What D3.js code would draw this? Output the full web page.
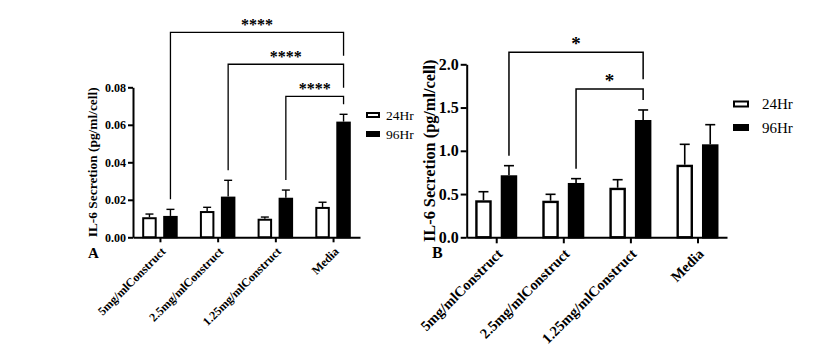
<!DOCTYPE html>
<html>
<head>
<meta charset="utf-8">
<script src="https://cdn.jsdelivr.net/npm/d3@7"></script>
<style>
  body { margin: 0; background: #fff; }
  svg text { font-family: "Times New Roman", "Liberation Serif", "DejaVu Serif", serif !important; fill: #000; }
</style>
</head>
<body>
<div id="chart"></div>
<script>
// IL-6 secretion, two panels (A, B)
const categories = ["5mg/mlConstruct", "2.5mg/mlConstruct", "1.25mg/mlConstruct", "Media"];
const seriesNames = ["24Hr", "96Hr"];

// panel A
const a24 = [0.0107, 0.0140, 0.0099, 0.0162];
const a24Err = [0.0017, 0.0020, 0.0009, 0.0025];
const a96 = [0.0114, 0.0217, 0.0211, 0.0617];
const a96Err = [0.0035, 0.0087, 0.0041, 0.0039];
const aTicks = [0, 0.02, 0.04, 0.06, 0.08];
const aSig = [
    { from: 0, to: 3, level: 0.1093, label: "****" },
    { from: 1, to: 3, level: 0.0923, label: "****" },
    { from: 2, to: 3, level: 0.0752, label: "****" }
];

// panel B
const b24 = [0.428, 0.423, 0.573, 0.839];
const b24Err = [0.099, 0.074, 0.093, 0.236];
const b96 = [0.717, 0.628, 1.356, 1.075];
const b96Err = [0.111, 0.050, 0.116, 0.227];
const bTicks = [0, 0.5, 1.0, 1.5, 2.0];
const bSig = [
    { from: 0, to: 2, level: 2.139, label: "*" },
    { from: 1, to: 2, level: 1.714, label: "*" }
];

const svg = d3.select("#chart").append("svg")
    .attr("width", 832)
    .attr("height", 353);

function drawPanel(p) {
    const g = svg.append("g");

    const y = d3.scaleLinear().domain([0, p.ticks[p.ticks.length - 1]]).range([p.bottom, p.top]);
    const x = d3.scalePoint().domain(categories).range([p.left, p.right]).padding(p.xPad);
    const s = d3.scaleBand().domain(seriesNames)
        .range([-(p.barW + p.gap / 2), p.barW + p.gap / 2])
        .paddingInner(p.gap / (p.barW + p.gap));

    const rows = [];
    categories.forEach((c, i) => {
        rows.push({ cat: c, ser: "24Hr", v: p.v24[i], e: p.e24[i] });
        rows.push({ cat: c, ser: "96Hr", v: p.v96[i], e: p.e96[i] });
    });
    const cx = d => x(d.cat) + s(d.ser) + s.bandwidth() / 2;

    // error bars (upper only)
    const eb = g.append("g").attr("stroke", "#000").attr("stroke-width", p.errW);
    eb.selectAll("line.v").data(rows).enter().append("line")
        .attr("x1", cx).attr("x2", cx)
        .attr("y1", d => y(d.v)).attr("y2", d => y(d.v + d.e));
    eb.selectAll("line.c").data(rows).enter().append("line")
        .attr("x1", d => cx(d) - p.capW / 2).attr("x2", d => cx(d) + p.capW / 2)
        .attr("y1", d => y(d.v + d.e)).attr("y2", d => y(d.v + d.e));

    // bars
    g.append("g").selectAll("rect").data(rows).enter().append("rect")
        .attr("x", d => x(d.cat) + s(d.ser) + p.barStroke / 2)
        .attr("y", d => y(d.v) + p.barStroke / 2)
        .attr("width", s.bandwidth() - p.barStroke)
        .attr("height", d => y(0) - y(d.v) - p.barStroke / 2)
        .attr("fill", d => d.ser === "24Hr" ? "#fff" : "#000")
        .attr("stroke", "#000")
        .attr("stroke-width", p.barStroke);

    // y axis
    const ya = g.append("g")
        .attr("transform", `translate(${p.left},0)`)
        .call(d3.axisLeft(y).tickValues(p.ticks).tickFormat(d3.format(p.fmt))
            .tickSize(p.tick).tickSizeOuter(0).tickPadding(2));
    ya.attr("font-family", null);
    ya.selectAll("path, line").attr("stroke", "#000").attr("stroke-width", p.axisW);
    ya.selectAll("text").attr("font-size", p.tickFont).attr("font-weight", "bold");

    // x axis
    const xa = g.append("g")
        .attr("transform", `translate(0,${p.bottom})`)
        .call(d3.axisBottom(x).tickSize(p.tick).tickSizeOuter(0));
    xa.attr("font-family", null);
    xa.selectAll("path, line").attr("stroke", "#000").attr("stroke-width", p.axisW);
    xa.selectAll("text")
        .attr("font-size", p.catFont).attr("font-weight", "bold")
        .attr("text-anchor", "end")
        .attr("x", 0).attr("y", 0).attr("dy", "0.35em")
        .attr("transform", `translate(${p.catDx},${p.catDy}) rotate(-45)`);

    // y label
    g.append("text")
        .attr("transform", `translate(${p.labelX},${(p.top + p.bottom) / 2}) rotate(-90)`)
        .attr("text-anchor", "middle")
        .attr("dy", "0.35em")
        .attr("font-size", p.labelFont)
        .attr("font-weight", "bold")
        .text("IL-6 Secretion (pg/ml/cell)");

    // panel letter
    g.append("text")
        .attr("x", p.letterX).attr("y", p.letterY)
        .attr("font-size", p.letterFont).attr("font-weight", "bold")
        .text(p.letter);

    // significance brackets (between 96Hr bars)
    const topOf = i => {
        const d = rows.find(r => r.cat === categories[i] && r.ser === "96Hr");
        return { x: cx(d), y: y(d.v + d.e) };
    };
    const br = g.append("g");
    p.sig.forEach(b => {
        const a = topOf(b.from), c = topOf(b.to);
        const by = y(b.level);
        const rightEnd = Math.min(by + p.legLen, c.y - 10);
        br.append("path")
            .attr("d", `M${a.x},${a.y - 10}V${by}H${c.x}V${rightEnd}`)
            .attr("fill", "none").attr("stroke", "#000").attr("stroke-width", p.brW);
        br.append("text")
            .attr("x", (a.x + c.x) / 2).attr("y", by - 2)
            .attr("text-anchor", "middle")
            .attr("font-size", p.starFont).attr("font-weight", "bold")
            .text(b.label);
    });

    // legend
    const lg = g.append("g");
    seriesNames.forEach((n, i) => {
        const cy = p.legY + i * p.legStep;
        lg.append("rect")
            .attr("x", p.legX + 1).attr("y", cy - p.legH / 2 + 1)
            .attr("width", p.legW - 2).attr("height", p.legH - 2)
            .attr("fill", n === "24Hr" ? "#fff" : "#000")
            .attr("stroke", "#000").attr("stroke-width", 2);
        lg.append("text")
            .attr("x", p.legTextX).attr("y", cy).attr("dy", "0.35em")
            .attr("font-size", p.legFont)
            .text(n);
    });
}

drawPanel({
    v24: a24, e24: a24Err, v96: a96, e96: a96Err, ticks: aTicks, sig: aSig, fmt: ".2f",
    left: 133, right: 360, top: 87.3, bottom: 237.3, xPad: 0.467,
    barW: 14.5, gap: 6.5, barStroke: 2, capW: 8, errW: 1.4, axisW: 2, tick: 5, brW: 1.3,
    tickFont: 12, catFont: 12, catDx: 3, catDy: 12, labelFont: 13.4, labelX: 92,
    letter: "A", letterX: 88, letterY: 258, letterFont: 15,
    legLen: 23.5, starFont: 16,
    legX: 366, legW: 14, legH: 6, legY: 115, legStep: 19, legTextX: 386, legFont: 13.5
});

drawPanel({
    v24: b24, e24: b24Err, v96: b96, e96: b96Err, ticks: bTicks, sig: bSig, fmt: ".1f",
    left: 466.7, right: 727, top: 64.3, bottom: 237.3, xPad: 0.44,
    barW: 16.5, gap: 9, barStroke: 2.4, capW: 10, errW: 1.6, axisW: 2, tick: 6, brW: 1.5,
    tickFont: 16, catFont: 14.5, catDx: 3, catDy: 14, labelFont: 16.3, labelX: 429,
    letter: "B", letterX: 432, letterY: 258, letterFont: 16,
    legLen: 27, starFont: 19,
    legX: 733, legW: 16, legH: 7, legY: 104, legStep: 23.5, legTextX: 762, legFont: 15
});
</script>
</body>
</html>
